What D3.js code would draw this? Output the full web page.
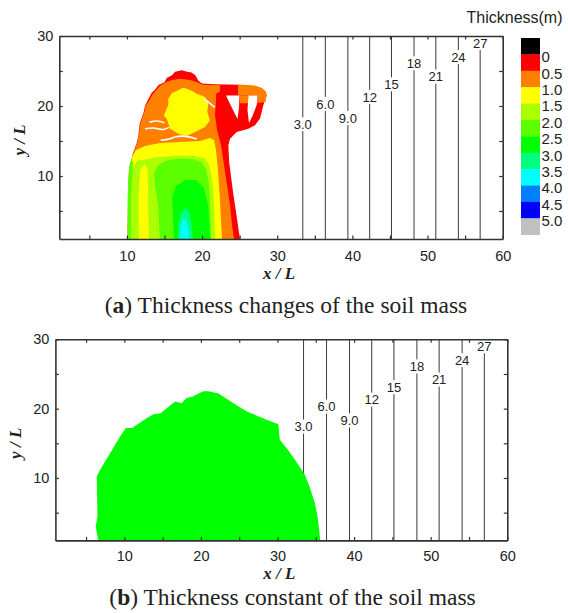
<!DOCTYPE html>
<html>
<head>
<meta charset="utf-8">
<script src="https://cdn.jsdelivr.net/npm/d3@7"></script>
<style>
  body { margin: 0; background: #fff; }
  svg text { font-family: "Liberation Sans", Arial, sans-serif; fill: #222; }
  .caption, .axis-title { font-family: "Liberation Serif", "Times New Roman", serif; }
</style>
</head>
<body>
<svg id="chart" width="568" height="613"></svg>
<script>
// thickness maps of the soil mass, two panels

// axes
const xTicks = [10, 20, 30, 40, 50, 60];
const xMinor = [5, 15, 25, 35, 45, 55];
const yTicks = [10, 20, 30];
const yMinor = [5, 15, 25];

// slope contours (vertical lines) and where their labels sit
const contourLabels = ['3.0', '6.0', '9.0', '12', '15', '18', '21', '24', '27'];
const contourX = [33.4, 36.4, 39.4, 42.3, 45.2, 48.2, 51.1, 54.1, 57.0];
const contourLabelY = [17.4, 20.3, 18.3, 21.3, 23.1, 26.1, 24.2, 27.0, 29.0];

// legend
const legendBreaks = [0, 0.5, 1.0, 1.5, 2.0, 2.5, 3.0, 3.5, 4.0, 4.5, 5.0];
const legendLabels = ['0', '0.5', '1.0', '1.5', '2.0', '2.5', '3.0', '3.5', '4.0', '4.5', '5.0'];
const legendColors = ['#000000', '#ff0000', '#ff8000', '#ffff00', '#aaff00', '#5cff00',
                      '#00ff00', '#00ff80', '#00ffff', '#0080ff', '#0000ff', '#c0c0c0'];

// (a) thickness zones, outlines in (x/L, y/L)
const envelopeA = [[10.08,1],[10.14,6.6],[10.27,10.9],[10.81,13.3],[11.3,14.7],[11.5,15.6],[11.7,17.5],
  [12.2,19.0],[12.4,20.0],[12.8,20.9],[13.3,21.9],[13.7,22.3],[14.2,23.0],[15.0,23.4],[15.3,24.0],
  [16.0,24.4],[16.4,24.9],[17.3,25.1],[18.0,24.9],[18.6,24.8],[19.1,24.4],[19.5,23.6],[20.0,23.2],
  [21.6,23.1],[24.8,23.05],[26.5,22.85],[27.71,22.5],[28.37,22.1],[28.6,21.53],[28.15,20.1],
  [27.71,18.2],[27.04,17.24],[26.15,16.76],[24.6,16.29],[23.72,15.33],[23.49,14.4],[23.6,12.0],
  [23.9,9.5],[24.17,7.3],[24.5,5.0],[24.82,2.57],[25.05,1]];
const orangeA = [[10.1,1],[10.16,6.6],[10.3,10.9],[10.85,13.3],[11.35,14.7],[11.55,15.6],[11.78,17.5],
  [12.28,19.0],[12.5,20.0],[12.95,20.8],[13.45,21.7],[13.85,22.2],[14.4,22.9],[15.2,23.4],[16.0,23.7],
  [17.06,23.9],[18.39,23.7],[19.32,23.4],[20.12,23.05],[22.4,22.95],[22.4,22.1],[21.85,21.7],
  [21.85,20.86],[21.72,18.71],[21.99,16.57],[22.52,14.43],[22.92,11.57],[23.32,8.71],[23.72,5.86],
  [23.98,3.0],[24.25,1]];
const loopOrangeA = [[24.78,23.07],[27.04,22.93],[27.97,22.57],[28.5,22.07],[28.57,21.43],[28.44,20.57],
  [27.37,20.43],[27.37,21.5],[24.78,21.5]];
const armOrangeA = [[25.05,21.5],[26.17,21.5],[26.17,20.38],[25.05,20.38]];
const loopHole1 = [[23.18,21.5],[24.98,21.5],[24.91,19.71],[24.71,18.14],[23.98,19.71]];
const loopHole2 = [[26.17,21.5],[27.37,21.5],[27.31,20.29],[26.77,18.71],[26.24,17.57],[26.04,19.43]];
const yellowTopA = [[15.5,21.04],[16.0,21.86],[16.84,22.24],[17.4,22.6],[17.95,22.47],[18.66,22.14],
  [19.28,21.76],[20.39,21.29],[20.83,20.33],[20.69,19.14],[21.05,17.96],[20.39,17.0],[19.06,16.29],
  [17.95,15.71],[16.84,16.04],[15.73,16.76],[15.29,18.19],[14.9,18.6],[15.2,19.43],[15.5,20.1]];
const yellowLowA = [[10.14,1],[10.17,6.57],[10.27,10.86],[10.67,12.71],[11.21,13.71],[12.4,14.29],
  [14.4,14.71],[17.06,14.86],[19.72,15.0],[21.05,15.43],[21.59,15.14],[21.85,13.71],[22.12,10.86],
  [22.38,6.57],[22.65,1]];
const yellowGreenA = [[10.54,1],[10.47,6.57],[10.54,9.71],[10.9,11.4],[11.4,12.2],[12.6,12.4],
  [14.2,12.7],[16.5,12.9],[18.7,12.9],[20.3,12.6],[20.95,11.6],[21.32,9.5],[21.59,6.0],[21.72,1]];
const edgeStripeA = [[10.08,1],[10.09,6.57],[10.17,9.43],[10.34,11.57],[10.61,12.57],[10.81,11.86],
  [10.67,9.43],[10.54,6.57],[10.54,1]];
const green1A = [[14.4,1],[14.13,5.86],[13.73,8.71],[13.6,10.4],[14.2,11.6],[15.3,12.2],
  [16.8,12.5],[18.66,12.4],[19.9,12.0],[20.55,10.9],[20.95,8.71],[21.1,5.14],[21.2,1]];
const yellowStripeA = [[11.6,1],[11.55,5.14],[11.6,8.71],[11.8,10.86],[12.3,11.8],[12.75,11.14],
  [12.8,8.0],[12.85,4.43],[12.95,1]];
const green2A = [[16.26,1],[16.13,4.43],[16.0,7.0],[16.53,8.57],[17.73,9.43],[19.19,9.43],[20.25,8.29],
  [20.79,5.86],[20.99,3.0],[21.05,1]];
const springA = [[16.8,1],[16.8,3.0],[17.2,4.86],[17.86,5.43],[18.39,4.57],[18.66,2.57],[18.79,1]];
const cyanA = [[17.06,1],[17.13,2.57],[17.46,4.0],[17.93,3.71],[18.2,2.29],[18.26,1]];
// thin bare gaps between the sliding slices
const gapsA = [
  [[14.5,15.1],[15.7,15.3],[16.5,15.6],[17.3,15.7],[18.4,15.55],[19.3,15.3]],
  [[12.4,16.75],[13.5,16.85],[14.8,16.65],[15.6,16.95]],
  [[13.0,17.7],[14.0,17.85],[15.0,17.6]],
  [[20.3,21.0],[21.0,20.4],[21.7,19.8]]
];

// (b) constant thickness outline
const soilB = [[6.6,1],[6.26,3.0],[6.5,4.4],[6.4,10.2],[6.8,11.1],[8.1,13.5],[9.4,15.9],[10.2,17.2],
  [11.0,17.2],[12.9,18.6],[13.8,19.2],[14.7,19.3],[16.0,20.5],[16.6,21.0],[17.5,20.8],[18.1,21.5],
  [19.0,21.8],[20.3,22.5],[20.96,22.5],[22.3,22.2],[24.2,20.8],[26.0,19.6],[28.1,18.6],[30.0,17.8],
  [30.1,17.9],[30.3,15.5],[31.4,14.0],[32.3,12.6],[33.6,10.4],[34.2,8.7],[34.9,6.3],[35.3,3.9],
  [35.5,1.8],[35.6,1]];

// thickness class of each zone (null = no soil)
const layersA = [
  {shape: envelopeA, t: 0.25},
  {shape: orangeA, t: 0.75},
  {shape: loopOrangeA, t: 0.75},
  {shape: armOrangeA, t: 0.75},
  {shape: loopHole1, t: null},
  {shape: loopHole2, t: null},
  {shape: yellowTopA, t: 1.25},
  {shape: yellowLowA, t: 1.25},
  {shape: yellowGreenA, t: 1.75},
  {shape: edgeStripeA, t: 2.25},
  {shape: green1A, t: 2.25},
  {shape: yellowStripeA, t: 1.25},
  {shape: green2A, t: 2.75},
  {shape: springA, t: 3.25},
  {shape: cyanA, t: 3.75}
];
const layersB = [{shape: soilB, t: 2.75}];

/*************************************************************/

const svg = d3.select('#chart');

const soilColor = d3.scaleThreshold()
  .domain(legendBreaks)
  .range(legendColors);

function drawPanel(p) {
  const x = d3.scaleLinear().domain([1, 60]).range([p.left, p.right]);
  const y = d3.scaleLinear().domain([1, 30]).range([p.bottom, p.top]);
  const g = svg.append('g');

  // contour lines first, broken where the label sits
  contourX.forEach((cx, i) => {
    const px = x(cx);
    const ly = y(contourLabelY[i]);
    [[p.top, ly - 7], [ly + 7, p.bottom]].forEach(seg => {
      if (seg[1] - seg[0] < 1) return;
      g.append('line')
        .attr('x1', px).attr('x2', px)
        .attr('y1', seg[0]).attr('y2', seg[1])
        .attr('stroke', '#3a3a3a').attr('stroke-width', 1);
    });
    g.append('text')
      .attr('x', px).attr('y', ly)
      .attr('dy', '0.36em')
      .attr('text-anchor', 'middle')
      .attr('font-size', '13px')
      .text(contourLabels[i]);
  });

  g.append('clipPath').attr('id', 'clip-' + p.id)
    .append('rect')
    .attr('x', p.left).attr('y', p.top)
    .attr('width', p.right - p.left).attr('height', p.bottom - p.top);

  const plot = g.append('g').attr('clip-path', 'url(#clip-' + p.id + ')');
  const outline = d3.line().x(d => x(d[0])).y(d => y(d[1]));

  plot.selectAll('path.zone')
    .data(p.layers)
    .join('path')
      .attr('class', 'zone')
      .attr('d', d => outline(d.shape) + 'Z')
      .attr('fill', d => d.t === null ? '#fff' : soilColor(d.t));

  plot.selectAll('path.gap')
    .data(p.gaps || [])
    .join('path')
      .attr('class', 'gap')
      .attr('d', d3.line().curve(d3.curveCatmullRom).x(d => x(d[0])).y(d => y(d[1])))
      .attr('fill', 'none')
      .attr('stroke', '#fff')
      .attr('stroke-width', 1.6);

  const allX = xMinor.concat(xTicks).sort(d3.ascending);
  const allY = yMinor.concat(yTicks).sort(d3.ascending);

  const bottom = g.append('g')
    .attr('transform', 'translate(0,' + p.bottom + ')')
    .call(d3.axisBottom(x).tickValues(allX).tickSizeInner(-3.5).tickSizeOuter(0).tickPadding(p.tickPad)
      .tickFormat(d => xTicks.includes(d) ? d : ''));
  const left = g.append('g')
    .attr('transform', 'translate(' + p.left + ',0)')
    .call(d3.axisLeft(y).tickValues(allY).tickSizeInner(-3.5).tickSizeOuter(0).tickPadding(6)
      .tickFormat(d => yTicks.includes(d) ? d : ''));
  const top = g.append('g')
    .attr('transform', 'translate(0,' + p.top + ')')
    .call(d3.axisTop(x).tickValues(allX).tickSizeInner(-3.5).tickSizeOuter(0).tickFormat(''));
  const right = g.append('g')
    .attr('transform', 'translate(' + p.right + ',0)')
    .call(d3.axisRight(y).tickValues(allY).tickSizeInner(-3.5).tickSizeOuter(0).tickFormat(''));

  [bottom, left, top, right].forEach(a => {
    a.selectAll('path.domain').attr('stroke', '#333').attr('stroke-width', 1.6);
    a.selectAll('.tick line').attr('stroke', '#333').attr('stroke-width', 1.2);
    a.selectAll('.tick text')
      .attr('font-size', '14.5px')
      .attr('font-family', '"Liberation Sans", Arial, sans-serif')
      .attr('fill', '#222');
  });

  // axis titles
  g.append('text')
    .attr('class', 'axis-title')
    .attr('x', (p.left + p.right) / 2 - 2).attr('y', p.bottom + p.titleGap)
    .attr('text-anchor', 'middle')
    .attr('font-size', '17px').attr('font-style', 'italic').attr('font-weight', 'bold')
    .text('x / L');

  g.append('text')
    .attr('class', 'axis-title')
    .attr('transform', 'translate(' + (p.left - 34) + ',' + (p.top + 104) + ') rotate(-90)')
    .attr('text-anchor', 'middle')
    .attr('font-size', '17px').attr('font-style', 'italic').attr('font-weight', 'bold')
    .text('y / L');

  // caption
  const cap = g.append('text')
    .attr('class', 'caption')
    .attr('x', p.capX).attr('y', p.capY)
    .attr('text-anchor', 'middle')
    .attr('font-size', '23.5px');
  cap.append('tspan').text('(');
  cap.append('tspan').attr('font-weight', 'bold').text(p.letter);
  cap.append('tspan').text(') ' + p.caption);
}

drawPanel({id: 'a', left: 59.3, right: 502.7, top: 36, bottom: 239, layers: layersA, gaps: gapsA,
  tickPad: 11.5, titleGap: 39.5,
  letter: 'a', caption: 'Thickness changes of the soil mass', capX: 286, capY: 313});
drawPanel({id: 'b', left: 55.4, right: 507.3, top: 339.3, bottom: 540.4, layers: layersB,
  tickPad: 10, titleGap: 38.5,
  letter: 'b', caption: 'Thickness constant of the soil mass', capX: 292.5, capY: 604.5});

// colour bar for panel (a)
const legendY = d3.scaleLinear().domain([0, legendColors.length]).range([38, 234.7]);
const legend = svg.append('g');
legend.selectAll('rect')
  .data(legendColors)
  .join('rect')
    .attr('x', 521).attr('width', 19)
    .attr('y', (d, i) => legendY(i))
    .attr('height', legendY(1) - legendY(0) + 0.3)
    .attr('fill', d => d);
legend.selectAll('text')
  .data(legendLabels)
  .join('text')
    .attr('x', 541.5)
    .attr('y', (d, i) => legendY(i + 1) + 2.5)
    .attr('dy', '0.36em')
    .attr('font-size', '15px')
    .text(d => d);
legend.append('text')
  .attr('x', 466.5).attr('y', 23)
  .attr('font-size', '16px')
  .text('Thickness(m)');
</script>
</body>
</html>
